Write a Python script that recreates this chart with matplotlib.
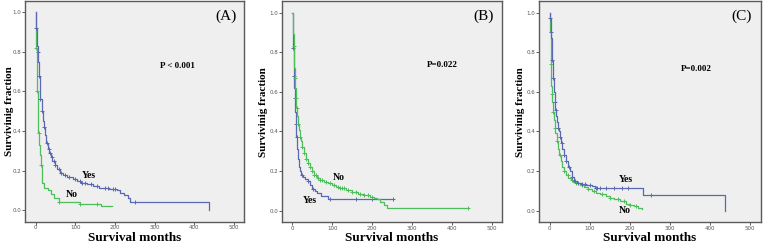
import numpy as np
import matplotlib
matplotlib.use('Agg')
import matplotlib.pyplot as plt

BLUE = '#5a68b4'
GREEN = '#4cbf5a'

# ---- panel A ----
A_yes_t = [0, 1, 2, 3, 4, 5, 6, 8, 10, 12, 15, 18, 20, 23, 26, 30, 34, 38, 42, 48,
           55, 62, 70, 80, 95, 105, 115, 130, 145, 160, 185, 205, 213, 222, 232, 238, 438]
A_yes_s = [1.0, 0.97, 0.92, 0.88, 0.83, 0.80, 0.75, 0.68, 0.60, 0.56, 0.50, 0.45, 0.42,
           0.38, 0.34, 0.31, 0.29, 0.27, 0.25, 0.23, 0.21, 0.19, 0.18, 0.17, 0.16, 0.15,
           0.14, 0.13, 0.12, 0.11, 0.105, 0.10, 0.085, 0.075, 0.06, 0.04, 0.0]
A_yes_cens = [2, 5, 8, 12, 16, 22, 28, 33, 36, 40, 45, 50, 58, 65, 75, 85, 100, 112,
              118, 125, 140, 155, 175, 182, 195, 200, 252]
A_no_t = [0, 1, 2, 3, 4, 5, 6, 7, 9, 11, 13, 16, 20, 30, 38, 45, 58, 112, 165, 192]
A_no_s = [1.0, 0.92, 0.82, 0.72, 0.60, 0.50, 0.45, 0.39, 0.33, 0.28, 0.23, 0.14, 0.11,
          0.10, 0.08, 0.06, 0.04, 0.03, 0.02, 0.02]
A_no_cens = [2, 4, 8, 13, 60, 112, 155]

# ---- panel B ----
B_no_t = [0, 1, 2, 3, 4, 5, 6, 7, 8, 10, 12, 14, 16, 18, 20, 22, 25, 30, 35, 40, 45, 50,
          55, 62, 70, 80, 90, 100, 110, 120, 135, 150, 165, 180, 195, 205, 212, 220, 230,
          236, 440]
B_no_s = [1.0, 0.95, 0.89, 0.83, 0.77, 0.72, 0.67, 0.62, 0.57, 0.52, 0.48, 0.44, 0.41,
          0.39, 0.37, 0.35, 0.32, 0.29, 0.26, 0.24, 0.22, 0.20, 0.18, 0.165, 0.155, 0.145,
          0.14, 0.13, 0.12, 0.115, 0.105, 0.095, 0.085, 0.08, 0.07, 0.065, 0.06, 0.045,
          0.03, 0.013, 0.013]
B_no_cens = [3, 6, 9, 11, 15, 20, 25, 30, 35, 40, 45, 50, 55, 60, 65, 70, 75, 85, 95, 105,
             115, 120, 125, 130, 140, 150, 160, 170, 180, 190, 200, 440]
B_yes_t = [0, 1, 2, 3, 4, 5, 6, 7, 8, 10, 12, 14, 16, 18, 22, 26, 32, 38, 44, 50, 56, 62,
           72, 90, 253]
B_yes_s = [1.0, 0.9, 0.82, 0.75, 0.68, 0.62, 0.57, 0.5, 0.44, 0.37, 0.31, 0.26, 0.22, 0.2,
           0.18, 0.17, 0.16, 0.15, 0.13, 0.11, 0.1, 0.09, 0.075, 0.06, 0.06]
B_yes_cens = [2, 4, 6, 9, 11, 24, 38, 52, 95, 158, 200, 253]

# ---- panel C ----
C_yes_t = [0, 1, 2, 3, 4, 5, 6, 7, 8, 10, 12, 14, 16, 18, 20, 22, 25, 28, 31, 35, 40, 45,
           50, 55, 60, 68, 78, 90, 105, 113, 233, 437]
C_yes_s = [1.0, 0.97, 0.93, 0.9, 0.87, 0.8, 0.76, 0.72, 0.67, 0.6, 0.55, 0.51, 0.48, 0.45,
           0.42, 0.4, 0.37, 0.34, 0.31, 0.28, 0.25, 0.22, 0.2, 0.17, 0.15, 0.14, 0.135,
           0.13, 0.125, 0.115, 0.08, 0.0]
C_yes_cens = [1, 3, 6, 9, 12, 15, 20, 25, 30, 35, 40, 48, 55, 62, 70, 80, 88, 100, 115,
              118, 125, 140, 160, 180, 195, 252]
C_no_t = [0, 1, 2, 3, 4, 5, 6, 8, 10, 12, 14, 17, 20, 23, 27, 31, 35, 40, 46, 52, 58, 65,
          75, 85, 95, 105, 115, 125, 140, 150, 160, 175, 190, 200, 210, 220, 230]
C_no_s = [1.0, 0.9, 0.74, 0.68, 0.63, 0.59, 0.55, 0.5, 0.46, 0.42, 0.39, 0.35, 0.31, 0.28,
          0.25, 0.22, 0.2, 0.18, 0.165, 0.155, 0.145, 0.14, 0.13, 0.12, 0.11, 0.1, 0.09,
          0.085, 0.075, 0.065, 0.06, 0.05, 0.035, 0.03, 0.025, 0.015, 0.01]
C_no_cens = [2, 5, 8, 12, 18, 25, 35, 45, 55, 65, 80, 95, 110, 130, 150, 170, 185, 200, 215]

PANELS = [
    {
        'pos': [0.0327, 0.1024, 0.2867, 0.8935], 'ylab_x': -0.052,
        'curves': [(A_no_t, A_no_s, A_no_cens, GREEN), (A_yes_t, A_yes_s, A_yes_cens, BLUE)],
        'letter': '(A)', 'p': 'P < 0.001', 'p_xy': (313, 0.73),
        'labels': [('Yes', 117, 0.175), ('No', 76, 0.077)],
    },
    {
        'pos': [0.3687, 0.100, 0.289, 0.895], 'ylab_x': -0.064,
        'curves': [(B_yes_t, B_yes_s, B_yes_cens, BLUE), (B_no_t, B_no_s, B_no_cens, GREEN)],
        'letter': '(B)', 'p': 'P=0.022', 'p_xy': (337, 0.735),
        'labels': [('No', 100, 0.167), ('Yes', 27, 0.05)],
    },
    {
        'pos': [0.7055, 0.100, 0.290, 0.895], 'ylab_x': -0.061,
        'curves': [(C_no_t, C_no_s, C_no_cens, GREEN), (C_yes_t, C_yes_s, C_yes_cens, BLUE)],
        'letter': '(C)', 'p': 'P=0.002', 'p_xy': (327, 0.713),
        'labels': [('Yes', 173, 0.157), ('No', 173, 0.0)],
    },
]

SERIF = 'Liberation Serif'

fig = plt.figure(figsize=(7.64, 2.47), dpi=100)

for panel in PANELS:
    ax = fig.add_axes(panel['pos'])
    ax.set_facecolor('#efefef')
    for t, s, cens, color in panel['curves']:
        t = np.array(t, dtype=float)
        s = np.array(s, dtype=float)
        ax.step(t, s, where='post', color=color, lw=0.9)
        c = np.array(cens, dtype=float)
        idx = np.searchsorted(t, c, side='right') - 1
        ax.plot(c, s[idx], '+', color=color, ms=3.5, mew=0.7)

    ax.set_xlim(-27, 526)
    ax.set_ylim(-0.058, 1.057)
    ax.set_xticks([0, 100, 200, 300, 400, 500])
    ax.set_yticks([0.0, 0.2, 0.4, 0.6, 0.8, 1.0])
    ax.set_yticklabels(['0.0', '0.2', '0.4', '0.6', '0.8', '1.0'])
    ax.tick_params(labelsize=4, labelcolor='#555555', color='#444444',
                   length=2, width=0.6, pad=0.5)
    for sp in ax.spines.values():
        sp.set_color('#5a5a5a')
        sp.set_linewidth(1.0)

    ax.set_xlabel('Survival months', family=SERIF, weight='bold', fontsize=9.5, labelpad=1)
    ax.set_ylabel('Survivinig fraction', family=SERIF, weight='bold', fontsize=8)
    ax.yaxis.set_label_coords(panel['ylab_x'], 0.5)

    ax.text(454, 0.98, panel['letter'], family=SERIF, fontsize=11, va='center', ha='left')
    px, py = panel['p_xy']
    ax.text(px, py, panel['p'], family=SERIF, weight='bold', fontsize=6.5, va='center', ha='left')
    for txt, lx, ly in panel['labels']:
        ax.text(lx, ly, txt, family=SERIF, weight='bold', fontsize=7, va='center', ha='left')

plt.savefig('out.png', dpi=100, facecolor='white')
